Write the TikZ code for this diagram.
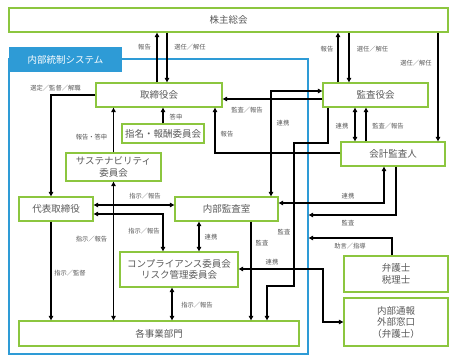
\documentclass[tikz,border=0pt]{standalone}
\usepackage{fontspec}
\setmainfont{Noto Sans CJK JP}
\usetikzlibrary{arrows.meta,calc}
\definecolor{gbox}{HTML}{8CC63F}
\definecolor{sysblue}{HTML}{2E9BD6}
\definecolor{txt}{HTML}{595959}
\begin{document}
\begin{tikzpicture}[x=1pt,y=-1pt,
 box/.style={draw=gbox, line width=1.3pt, fill=white, text=txt, font=\fontsize{9.5}{11.5}\selectfont, align=center, inner sep=0pt},
 lab/.style={text=txt, font=\fontsize{6.3}{7}\selectfont, inner sep=0pt},
 arr/.style={line width=1.1pt, -{Triangle[length=4.5pt,width=4.5pt]}},
 arrs/.style={line width=1.1pt, {Triangle[length=4.5pt,width=4.5pt]}-{Triangle[length=4.5pt,width=4.5pt]}}]
\useasboundingbox (0,0) rectangle (461,361);
% frame of internal control system
\node[draw=sysblue, line width=1.3pt, minimum width=299pt, minimum height=295pt, inner sep=0pt] (sys) at (158.5,206.5) {};
\node[fill=sysblue, text=white, minimum width=113pt, minimum height=25pt, inner sep=0pt, font=\fontsize{9.5}{11}\selectfont] (syslab) at (65.5,59.5) {内部統制システム};
% boxes
\node[box, minimum width=439pt, minimum height=24pt] (kabu) at (228.5,20) {株主総会};
\node[box, minimum width=126pt, minimum height=24pt] (tori) at (159,95) {取締役会};
\node[box, minimum width=105pt, minimum height=24pt] (kansa) at (375.5,95) {監査役会};
\node[box, minimum width=82pt, minimum height=19pt] (shimei) at (163,133.5) {指名・報酬委員会};
\node[box, minimum width=95pt, minimum height=28pt] (sus) at (113.5,167) {サステナビリティ\\委員会};
\node[box, minimum width=74pt, minimum height=24pt] (daihyo) at (56,209) {代表取締役};
\node[box, minimum width=103pt, minimum height=24pt] (naibu) at (226.5,209) {内部監査室};
\node[box, minimum width=104pt, minimum height=24pt] (kaikei) at (393,154) {会計監査人};
\node[box, minimum width=118pt, minimum height=35pt] (comp) at (179,269.5) {コンプライアンス委員会\\リスク管理委員会};
\node[box, minimum width=280pt, minimum height=25pt] (kaku) at (159,333.5) {各事業部門};
\node[box, minimum width=104pt, minimum height=36pt] (bengo) at (396,274) {弁護士\\税理士};
\node[box, minimum width=104pt, minimum height=48pt] (tsuho) at (396,322) {内部通報\\外部窓口\\（弁護士）};
% helper coordinates
\coordinate (c18a) at (294,143);
\coordinate (c18b) at (267,286);
\coordinate (c22) at (323,300);
% connectors
\draw[arr] ([xshift=-61.5]kabu.south) -- ([xshift=8]tori.north);
\draw[arr] ([xshift=-2]tori.north) -- ([xshift=-71.5]kabu.south);
\draw[arr] ([xshift=120.5]kabu.south) -- ([xshift=-26.5]kansa.north);
\draw[arr] ([xshift=-37.5]kansa.north) -- ([xshift=109.5]kabu.south);
\draw[arr] ([xshift=209.5]kabu.south) -- ([xshift=45]kaikei.north);
\draw[arr] (tori.west) -| ([xshift=-5]daihyo.north);
\draw[arr] (sus.north) -- ([xshift=-45.5]tori.south);
\draw[arr] (shimei.north) -- ([xshift=4]tori.south);
\draw[arrs] (sus.south) -- (sus.south |- kaku.north);
\draw[arrs] ([yshift=4]daihyo.east) -- ([yshift=4]naibu.west);
\draw[arrs] ([yshift=-5]daihyo.east) -| ([xshift=-16]comp.north);
\draw[arr] ([xshift=-5]daihyo.south) -- ([xshift=-5]daihyo.south |- kaku.north);
\draw[arrs] ([xshift=-27.5]naibu.south) -- ([xshift=-27.5]naibu.south |- comp.north);
\draw[arrs] ([xshift=-7]comp.south) -- ([xshift=-7]comp.south |- kaku.north);
\draw[arr] ([yshift=-4]kansa.west) -- ([yshift=-4]tori.east);
\draw[arrs] ([xshift=44.5]naibu.north) |- ([yshift=4]kansa.west);
\draw[arr] ([yshift=1]kaikei.west) -| ([xshift=56]tori.south);
\draw[arr] ([xshift=-47.5]kansa.south) |- (c18a) |- (c18b) -- (c18b |- kaku.north);
\draw[arr] ([xshift=24.5]naibu.south) -- ([xshift=24.5]naibu.south |- kaku.north);
\draw[arrs] ([xshift=-9]kaikei.south) |- ([yshift=6]naibu.east);
\draw[arr] ([xshift=3]kaikei.south) |- ([yshift=-8.5]sys.east);
\draw[arr] ([xshift=-4]bengo.north) |- ([yshift=-31.5]sys.east);
\draw[arrs] ([yshift=0.5]comp.east) -| (c22) |- (tsuho.west);
\draw[arrs] ([xshift=-20.5]kansa.south) -- ([xshift=-20.5]kansa.south |- kaikei.north);
\draw[arr] ([xshift=-27]kaikei.north) -- ([xshift=-9.5]kansa.south);
% labels
\node[lab] (l1) at (190,47) {選任／解任};
\node[lab] (l2) at (144.5,47) {報告};
\node[lab] (l3) at (372.5,49) {選任／解任};
\node[lab] (l4) at (327,49) {報告};
\node[lab] (l5) at (416,63) {選任／解任};
\node[lab] (l6) at (55.5,88) {選定／監督／解職};
\node[lab] (l7) at (91.5,137) {報告・答申};
\node[lab] (l8) at (176,117) {答申};
\node[lab] (l9) at (91.5,239) {指示／報告};
\node[lab] (l10) at (145,196) {指示／報告};
\node[lab] (l11) at (144,231) {指示／報告};
\node[lab] (l12) at (70,273) {指示／監督};
\node[lab] (l13) at (211,237) {連携};
\node[lab] (l14) at (197,305) {指示／報告};
\node[lab] (l15) at (247,110) {監査／報告};
\node[lab] (l16) at (283,123) {連携};
\node[lab] (l17) at (227,134) {報告};
\node[lab] (l18) at (262,243) {監査};
\node[lab] (l19) at (284,232) {監査};
\node[lab] (l20) at (348,196) {連携};
\node[lab] (l21) at (348,223) {監査};
\node[lab] (l22) at (350,246) {助言／指導};
\node[lab] (l23) at (272,262) {連携};
\node[lab] (l24) at (342,126) {連携};
\node[lab] (l25) at (388,126) {監査／報告};
\end{tikzpicture}
\end{document}
